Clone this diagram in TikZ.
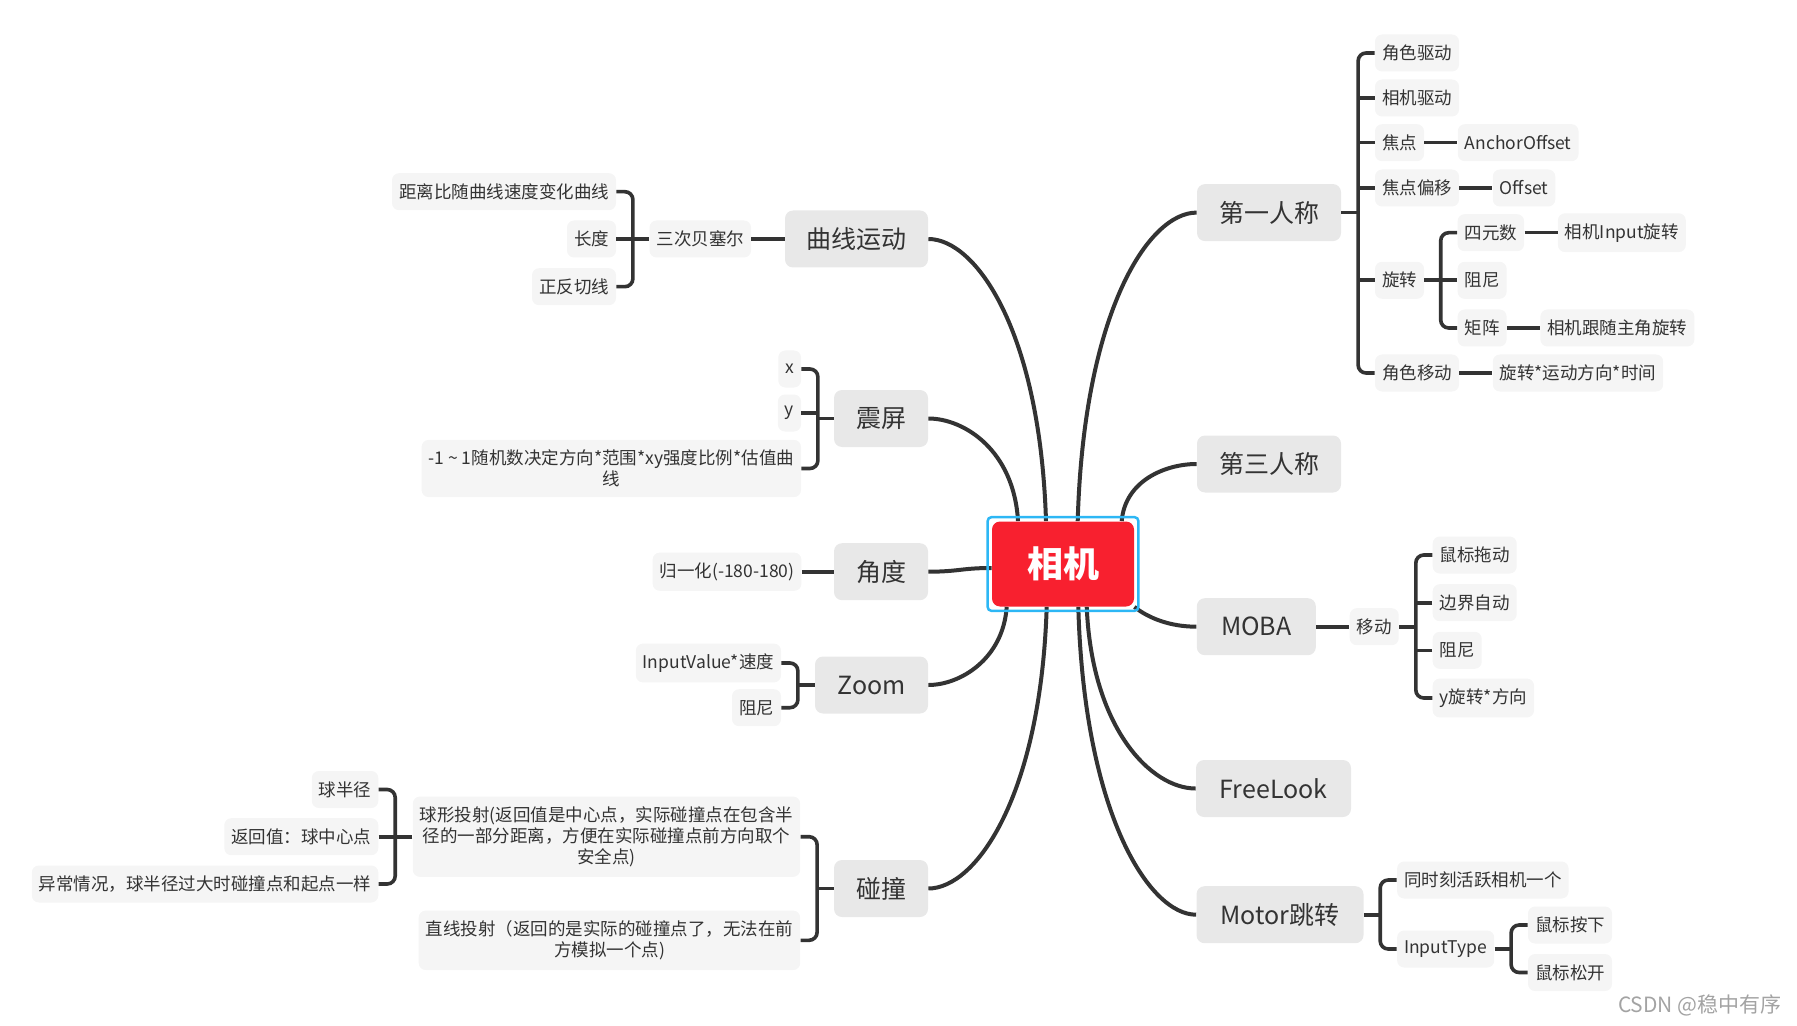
\documentclass[tikz,border=0pt]{standalone}
\usepackage{fontspec}
\setmainfont{Noto Sans CJK SC}
\usetikzlibrary{calc}
\definecolor{l1gray}{HTML}{E8E8E8}
\definecolor{leafgray}{HTML}{F5F5F5}
\definecolor{txt}{HTML}{333333}
\definecolor{conncol}{HTML}{333333}
\definecolor{camred}{HTML}{F8202F}
\definecolor{selblue}{HTML}{2DB7F5}
\definecolor{wmgray}{HTML}{A3A3A3}
\begin{document}
\begin{tikzpicture}[x=0.5pt,y=-0.5pt,
  rootbox/.style={fill=camred, rounded corners=4pt, text=white, font=\fontsize{18}{21}\selectfont\bfseries, minimum width=71pt, minimum height=42.5pt, inner sep=0pt},
  topic/.style={fill=l1gray, rounded corners=4pt, text=txt, font=\fontsize{12.5}{15}\selectfont, minimum height=28.5pt, inner xsep=4pt, inner ysep=0pt},
  leaf/.style={fill=leafgray, rounded corners=3.5pt, text=txt, font=\fontsize{8.75}{10.5}\selectfont, minimum height=18.5pt, inner xsep=3.5pt, inner ysep=5pt, align=center},
  conn/.style={draw=conncol, line width=2pt},
  brk/.style={draw=conncol, line width=1.8pt, rounded corners=4pt},
  lnk/.style={draw=conncol, line width=1.8pt},
]
\useasboundingbox (0,0) rectangle (1797,1026);

% ---------- root ----------
\node[rootbox] (c) at (1063,564) {相机};

% ---------- level-1 topics ----------
\node[topic, minimum width=71.5pt] (qx) at (856.5,239) {曲线运动};
\node[topic, minimum width=47pt]   (zp) at (881,418.5) {震屏};
\node[topic, minimum width=47pt]   (jd) at (881,571.7) {角度};
\node[topic, minimum width=56.5pt] (zm) at (871.5,685) {Zoom};
\node[topic, minimum width=47pt]   (pz) at (881,888.5) {碰撞};
\node[topic, minimum width=72pt]   (fp) at (1269,212.6) {第一人称};
\node[topic, minimum width=72pt]   (tp) at (1269,464) {第三人称};
\node[topic, minimum width=59.5pt] (mb) at (1256.3,626.7) {MOBA};
\node[topic, minimum width=77.5pt] (fl) at (1273.5,788.5) {FreeLook};
\node[topic, minimum width=83.5pt] (mt) at (1280,914.7) {Motor跳转};

% ---------- main connectors ----------
\draw[conn] ([shift={(-17,0)}]c.north) .. controls +(-6,-191.5) and +(47,0) .. (qx.east);
\draw[conn] ([shift={(-45,0)}]c.north) .. controls +(-4,-70.5) and +(36,0) .. (zp.east);
\draw[conn] ([shift={(0,4)}]c.west) .. controls +(-30,0) and +(30,0) .. (jd.east);
\draw[conn] ([shift={(-56.3,0)}]c.south) .. controls +(-3.7,52.5) and +(31.4,0) .. (zm.east);
\draw[conn] ([shift={(-16.3,0)}]c.south) .. controls +(-6,189.5) and +(47.5,0) .. (pz.east);
\draw[conn] ([shift={(14.7,0)}]c.north) .. controls +(5.9,-208.5) and +(-48.4,0) .. (fp.west);
\draw[conn] ([shift={(58.7,0)}]c.north) .. controls +(3.3,-40.5) and +(-31,0) .. (tp.west);
\draw[conn] (c.south east) .. controls +(15,12) and +(-25,0) .. (mb.west);
\draw[conn] ([shift={(23.7,0)}]c.south) .. controls +(5.3,122.5) and +(-44,0) .. (fl.west);
\draw[conn] ([shift={(15.3,0)}]c.south) .. controls +(5.7,206.5) and +(-47,0) .. (mt.west);

\draw[selblue, line width=1.25pt, rounded corners=2pt] ([shift={(-4,-4)}]c.north west) rectangle ([shift={(4,4)}]c.south east);

% ---------- 曲线运动 ----------
\node[leaf, anchor=east] (bz)  at (751.4,239)   {三次贝塞尔};
\node[leaf, anchor=east] (qx1) at (616.4,191.7) {距离比随曲线速度变化曲线};
\node[leaf, anchor=east] (qx2) at (616.4,239)   {长度};
\node[leaf, anchor=east] (qx3) at (616.4,286.7) {正反切线};
\draw[lnk] (bz.east) -- (qx.west);
\coordinate (bqx) at ($(qx1.east |- bz.west)+(16.5,0)$);
\draw[brk] (qx1.east) -| (bqx) |- (qx3.east);
\draw[lnk] (bz.west) -- (bqx);
\draw[lnk] (qx2.east) -- (qx2.east -| bqx);

% ---------- 震屏 ----------
\node[leaf, anchor=east] (zp1) at (801.4,369)   {x};
\node[leaf, anchor=east] (zp2) at (801.4,413)   {y};
\node[leaf, anchor=east] (zp3) at (801.4,468.5) {-1 \textasciitilde{} 1随机数决定方向*范围*xy强度比例*估值曲\\线};
\coordinate (bzp) at ($(zp1.east |- zp.west)+(16.5,0)$);
\draw[brk] (zp1.east) -| (bzp) |- (zp3.east);
\draw[lnk] (zp.west) -- (bzp);
\draw[lnk] (zp2.east) -- (zp2.east -| bzp);

% ---------- 角度 ----------
\node[leaf, anchor=east] (jd1) at (801.8,571.7) {归一化(-180-180)};
\draw[lnk] (jd1.east) -- (jd.west);

% ---------- Zoom ----------
\node[leaf, anchor=east] (zm1) at (781.4,663)   {InputValue*速度};
\node[leaf, anchor=east] (zm2) at (781.4,707.7) {阻尼};
\coordinate (bzm) at ($(zm1.east |- zm.west)+(16.5,0)$);
\draw[brk] (zm1.east) -| (bzm) |- (zm2.east);
\draw[lnk] (zm.west) -- (bzm);

% ---------- 碰撞 ----------
\node[leaf, anchor=east] (pz1) at (800.6,836.7) {球形投射(返回值是中心点，实际碰撞点在包含半\\径的一部分距离，方便在实际碰撞点前方向取个\\安全点)};
\node[leaf, anchor=east] (pz2) at (800.6,940.3) {直线投射（返回的是实际的碰撞点了，无法在前\\方模拟一个点)};
\coordinate (bpz) at ($(pz1.east |- pz.west)+(16.5,0)$);
\draw[brk] (pz1.east) -| (bpz) |- (pz2.east);
\draw[lnk] (pz.west) -- (bpz);
\node[leaf, anchor=east] (pz11) at (378.7,789.5) {球半径};
\node[leaf, anchor=east] (pz12) at (378.7,836.7) {返回值：球中心点};
\node[leaf, anchor=east] (pz13) at (378.7,884)   {异常情况，球半径过大时碰撞点和起点一样};
\coordinate (bpz1) at ($(pz11.east |- pz1.west)+(16.5,0)$);
\draw[brk] (pz11.east) -| (bpz1) |- (pz13.east);
\draw[lnk] (pz1.west) -- (bpz1);
\draw[lnk] (pz12.east) -- (pz12.east -| bpz1);

% ---------- 第一人称 ----------
\node[leaf, anchor=west] (fp1) at (1374.6,53)    {角色驱动};
\node[leaf, anchor=west] (fp2) at (1374.6,98)    {相机驱动};
\node[leaf, anchor=west] (fp3) at (1374.6,142.7) {焦点};
\node[leaf, anchor=west] (fp4) at (1374.6,188)   {焦点偏移};
\node[leaf, anchor=west] (fp5) at (1374.6,280.3) {旋转};
\node[leaf, anchor=west] (fp6) at (1374.6,373)   {角色移动};
\node[leaf, anchor=west] (fp3a) at ([xshift=16.5pt]fp3.east) {AnchorOffset};
\node[leaf, anchor=west] (fp4a) at ([xshift=16.5pt]fp4.east) {Offset};
\node[leaf, anchor=west] (fp6a) at ([xshift=16.5pt]fp6.east) {旋转*运动方向*时间};
\draw[lnk] (fp3.east) -- (fp3a.west);
\draw[lnk] (fp4.east) -- (fp4a.west);
\draw[lnk] (fp6.east) -- (fp6a.west);
\coordinate (bfp) at ($(fp1.west |- fp.east)+(-16.5,0)$);
\draw[brk] (fp1.west) -| (bfp) |- (fp6.west);
\draw[lnk] (fp.east) -- (bfp);
\foreach \n in {fp2,fp3,fp4,fp5} \draw[lnk] (\n.west) -- (\n.west -| bfp);

\node[leaf, anchor=west] (r1) at (1457.2,232.7) {四元数};
\node[leaf, anchor=west] (r2) at (1457.2,280.3) {阻尼};
\node[leaf, anchor=west] (r3) at (1457.2,328)   {矩阵};
\node[leaf, anchor=west] (r1a) at ([xshift=16.5pt]r1.east) {相机Input旋转};
\node[leaf, anchor=west] (r3a) at ([xshift=16.5pt]r3.east) {相机跟随主角旋转};
\draw[lnk] (r1.east) -- (r1a.west);
\draw[lnk] (r3.east) -- (r3a.west);
\coordinate (bfr) at ($(r1.west |- fp5.east)+(-16.5,0)$);
\draw[brk] (r1.west) -| (bfr) |- (r3.west);
\draw[lnk] (fp5.east) -- (bfr);
\draw[lnk] (r2.west) -- (bfr);

% ---------- MOBA ----------
\node[leaf, anchor=west] (mv) at (1349.3,626.7) {移动};
\draw[lnk] (mb.east) -- (mv.west);
\node[leaf, anchor=west] (m1) at (1432.3,555)   {鼠标拖动};
\node[leaf, anchor=west] (m2) at (1432.3,602.7) {边界自动};
\node[leaf, anchor=west] (m3) at (1432.3,650.3) {阻尼};
\node[leaf, anchor=west] (m4) at (1432.3,698)   {y旋转*方向};
\coordinate (bmv) at ($(m1.west |- mv.east)+(-16.5,0)$);
\draw[brk] (m1.west) -| (bmv) |- (m4.west);
\draw[lnk] (mv.east) -- (bmv);
\draw[lnk] (m2.west) -- (m2.west -| bmv);
\draw[lnk] (m3.west) -- (m3.west -| bmv);

% ---------- Motor跳转 ----------
\node[leaf, anchor=west] (mt1) at (1396.7,880) {同时刻活跃相机一个};
\node[leaf, anchor=west] (it)  at (1396.7,949) {InputType};
\coordinate (bmt) at ($(mt1.west |- mt.east)+(-16.5,0)$);
\draw[brk] (mt1.west) -| (bmt) |- (it.west);
\draw[lnk] (mt.east) -- (bmt);
\node[leaf, anchor=west] (it1) at (1527.6,925)   {鼠标按下};
\node[leaf, anchor=west] (it2) at (1527.6,972.5) {鼠标松开};
\coordinate (bit) at ($(it1.west |- it.east)+(-16.5,0)$);
\draw[brk] (it1.west) -| (bit) |- (it2.west);
\draw[lnk] (it.east) -- (bit);

% ---------- watermark ----------
\node[anchor=east, text=wmgray, font=\fontsize{10.5}{12}\selectfont, inner sep=0pt] (wmk) at (1782,1005) {CSDN @稳中有序};
\end{tikzpicture}
\end{document}
